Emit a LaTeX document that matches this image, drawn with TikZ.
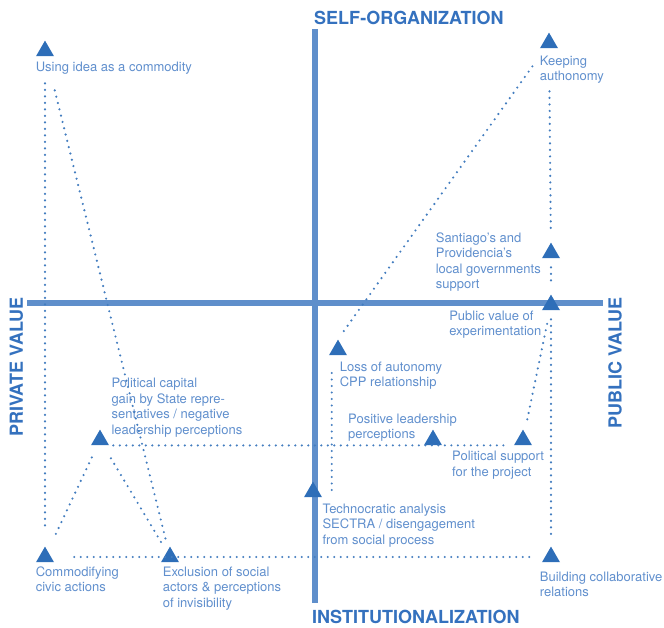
\documentclass[tikz,border=0pt]{standalone}
\usepackage{fontspec}
\setmainfont{TeX Gyre Heros}
\definecolor{MapBlue}{RGB}{46,110,184}
\definecolor{MapAxis}{RGB}{95,143,203}
\definecolor{MapTitle}{RGB}{52,113,190}
\definecolor{MapText}{RGB}{96,143,205}
\usetikzlibrary{positioning, shapes.geometric}

\begin{document}
\begin{tikzpicture}[
  x=1pt, y=-1pt,
  every node/.style={font=\fontsize{13}{15.5}\selectfont},
  tri/.style={regular polygon, regular polygon sides=3, fill=MapBlue, inner sep=0pt, minimum size=20.8pt},
  lbl/.style={text=MapText, align=left, inner sep=0pt},
  axislbl/.style={text=MapTitle, font=\fontsize{18}{20}\selectfont\bfseries, inner sep=0pt},
  axisbar/.style={draw=MapAxis, line width=6pt},
  link/.style={draw=MapBlue!90, line width=2.4pt, line cap=round, dash pattern=on 0pt off 6.5pt}
]
\useasboundingbox (0,0) rectangle (664,627);

% the two axes
\coordinate (top) at (315,29);
\coordinate (bottom) at (315,603);
\coordinate (left) at (27,303);
\coordinate (right) at (603,303);
\draw[axisbar] (top) -- (bottom);
\draw[axisbar] (left) -- (right);

\node[axislbl, anchor=west] (selforg) at (314,17.5) {SELF-ORGANIZATION};
\node[axislbl, anchor=west] (institut) at (312,617) {INSTITUTIONALIZATION};
\node[axislbl, rotate=90] (private) at (16.5,367) {PRIVATE VALUE};
\node[axislbl, rotate=90] (public) at (615,363) {PUBLIC VALUE};

% milestones
\node[tri] (idea) at (45,51) {};
\node[tri] (keep) at (549,43) {};
\node[tri] (santiago) at (551,253) {};
\node[tri] (pubexp) at (551,305) {};
\node[tri] (loss) at (338,350) {};
\node[tri] (polcap) at (100,440) {};
\node[tri] (posl) at (433,440) {};
\node[tri] (polsup) at (523,440) {};
\node[tri] (techno) at (313,492) {};
\node[tri] (commod) at (45,557) {};
\node[tri] (excl) at (170,557) {};
\node[tri] (build) at (551,557) {};

\node[lbl, below=5pt of idea.corner 2, anchor=north west] (ideatxt) {Using idea as a commodity};
\node[lbl, below=7pt of keep.corner 2, anchor=north west] (keeptxt) {Keeping\\authonomy};
\node[lbl, anchor=north east] (santiagotxt) at (541,232.5) {Santiago's and\\Providencia's\\local governments\\support};
\node[lbl, below left=0pt and 0pt of pubexp.corner 2] (pubexptxt) {Public value of\\experimentation};
\node[lbl, below right=6pt and 11pt of loss.corner 2] (losstxt) {Loss of autonomy\\CPP relationship};
\node[lbl, above right=8pt and 2pt of polcap.corner 3] (polcaptxt) {Political capital\\gain by State repre-\\sentatives / negative\\leadership perceptions};
\node[lbl, anchor=north west] (posltxt) at (348,413.5) {Positive leadership\\perceptions};
\node[lbl, anchor=north west] (polsuptxt) at (452,451) {Political support\\for the project};
\node[lbl, below=6pt of techno.corner 3, anchor=north west] (technotxt) {Technocratic analysis\\SECTRA / disengagement\\from social process};
\node[lbl, below=4pt of commod.corner 2, anchor=north west] (commodtxt) {Commodifying\\civic actions};
\node[lbl, below=4pt of excl.corner 2, anchor=north west, xshift=2pt] (excltxt) {Exclusion of social\\actors \& perceptions\\of invisibility};
\node[lbl, below=9pt of build.corner 2, anchor=north west, xshift=-2pt] (buildtxt) {Building collaborative\\relations};

% dotted paths
\draw[link, shorten <=27pt, shorten >=17pt] (idea) -- (commod);
\draw[link, shorten <=35pt, shorten >=10pt] (idea) -- (excl);
\draw[link, shorten <=19pt, shorten >=10pt] (commod) -- (polcap);
\draw[link, shorten <=15pt, shorten >=10pt] (polcap) -- (excl);
\draw[link, shorten <=4pt, shorten >=6pt] (polcap.corner 3) -- (polsup.corner 2);
\draw[link, shorten <=23pt, shorten >=11pt] (commod) -- (build);
\draw[link, shorten <=2pt, shorten >=17pt] (loss.west |- techno.center) -- (loss.west);
\draw[link, shorten <=10pt, shorten >=21pt] (loss.corner 1) -- (keep);
\draw[link, shorten <=43pt, shorten >=13pt] (keep) -- (santiago);
\draw[link, shorten <=9pt, shorten >=11pt] (santiago) -- (pubexp);
\draw[link, shorten <=9pt, shorten >=12pt] (pubexp) -- (build);
\draw[link, shorten <=13pt, shorten >=10pt] (polsup) -- (pubexp);
\end{tikzpicture}
\end{document}
